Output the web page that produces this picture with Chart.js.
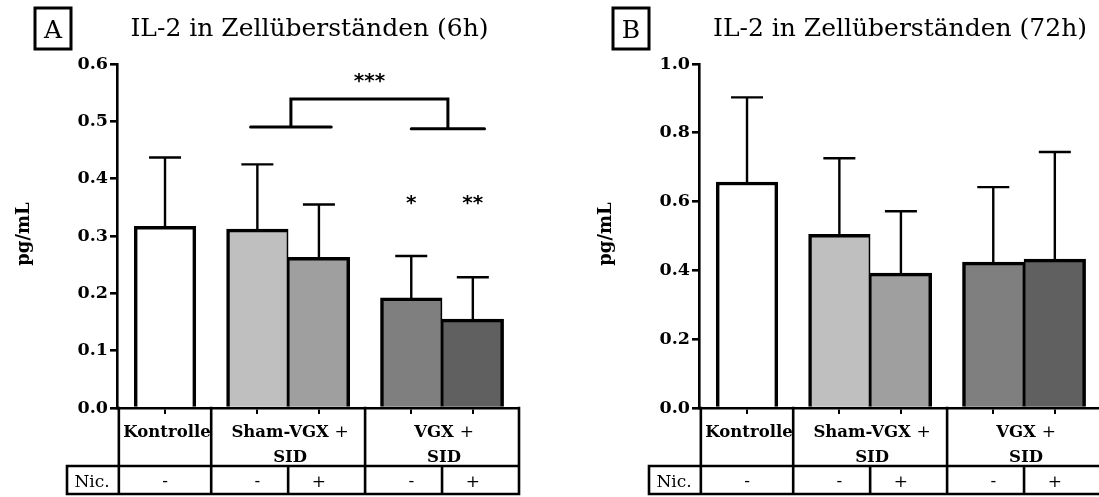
<!DOCTYPE html>
<html>
<head>
<meta charset="utf-8">
<script src="https://cdn.jsdelivr.net/npm/chart.js@4.4.0/dist/chart.umd.min.js"></script>
<style>
  html, body { margin: 0; padding: 0; background: #fff; }
  #wrap { position: relative; width: 1099px; height: 497px; overflow: hidden; }
  #chartA { position: absolute; left: 0; top: 0; }
  #chartB { position: absolute; left: 549px; top: 0; }
</style>
</head>
<body>
<div id="wrap">
  <canvas id="chartA" width="549" height="497"></canvas>
  <canvas id="chartB" width="560" height="497"></canvas>
</div>
<script>
/* ---------- data ---------- */
const groupLabels = [['Kontrolle'], ['Sham-VGX +', 'SID'], ['VGX +', 'SID']];
const barsPerGroup = [1, 2, 2];
const nicotine = ['-', '-', '+', '-', '+'];
const barFill = ['#ffffff', '#bfbfbf', '#9f9f9f', '#7f7f7f', '#606060'];

const mean6h = [0.317, 0.312, 0.263, 0.192, 0.155];
const sem6h = [0.120, 0.113, 0.092, 0.073, 0.073];
const yTicks6h = [0, 0.1, 0.2, 0.3, 0.4, 0.5, 0.6];

const mean72h = [0.657, 0.505, 0.392, 0.424, 0.433];
const sem72h = [0.246, 0.221, 0.180, 0.218, 0.311];
const yTicks72h = [0, 0.2, 0.4, 0.6, 0.8, 1.0];

// significance marks of the 6h panel (axis units)
const sigBracket6h = { top: 0.539, left: [2.14, 3.45, 0.490], right: [4.75, 5.94, 0.487], label: '***', labelY: 0.576 };
const sigStars6h = [{ bar: 3, label: '*', y: 0.363 }, { bar: 4, label: '**', y: 0.363 }];

/* ---------- slot layout from the group sizes ---------- */
const GAP = 0.5;
const barX = [], groupEdges = [0], subEdges = [], firstInGroup = [], lastInGroup = [];
let pos = 0;
barsPerGroup.forEach(n => {
  for (let i = 0; i < n; i++) {
    barX.push(pos + GAP / 2 + 0.5 + i);
    firstInGroup.push(i === 0);
    lastInGroup.push(i === n - 1);
    if (i > 0) subEdges.push(pos + GAP / 2 + i);
  }
  pos += n + GAP;
  groupEdges.push(pos);
});
const groupCenters = groupEdges.slice(0, -1).map((e, i) => (e + groupEdges[i + 1]) / 2);

const SERIF = '"DejaVu Serif", serif';

function textCentered(ctx, str, cx, cy, font) {
  ctx.font = font;
  const m = ctx.measureText(str);
  const base = cy + (m.actualBoundingBoxAscent - m.actualBoundingBoxDescent) / 2;
  ctx.textAlign = 'center';
  ctx.textBaseline = 'alphabetic';
  ctx.fillText(str, cx, base);
}

// bold text with regular "+" signs
function mixedLabel(ctx, str, cx, base) {
  const parts = str.split(/(\+)/).filter(p => p.length);
  const fonts = parts.map(p => p === '+' ? '17px ' + SERIF : 'bold 16.5px ' + SERIF);
  let total = 0;
  const widths = parts.map((p, i) => { ctx.font = fonts[i]; const w = ctx.measureText(p).width; total += w; return w; });
  let x = cx - total / 2;
  ctx.textAlign = 'left';
  ctx.textBaseline = 'alphabetic';
  parts.forEach((p, i) => { ctx.font = fonts[i]; ctx.fillText(p, x, base); x += widths[i]; });
}

function panelPlugin(cfg) {
  return {
    id: 'panel',
    afterDatasetsDraw(chart) {
      const { ctx, scales: { y } } = chart;
      const meta = chart.getDatasetMeta(0);
      ctx.save();
      ctx.strokeStyle = '#000';
      ctx.lineWidth = 2.4;
      meta.data.forEach((bar, i) => {
        const topY = y.getPixelForValue(cfg.mean[i] + cfg.sem[i]);
        const half = bar.width * 0.26;
        ctx.beginPath();
        ctx.moveTo(bar.x, bar.y);
        ctx.lineTo(bar.x, topY);
        ctx.moveTo(bar.x - half, topY);
        ctx.lineTo(bar.x + half, topY);
        ctx.stroke();
      });
      ctx.restore();
    },
    afterDraw(chart) {
      const { ctx, chartArea: a, scales: { x, y } } = chart;
      const px = v => Math.max(a.left, Math.min(a.right, x.getPixelForValue(v)));
      const top = a.bottom, mid = a.bottom + 58, bot = a.bottom + 86;
      const nicLeft = a.left - 50;
      ctx.save();
      ctx.fillStyle = '#000';
      ctx.strokeStyle = '#000';

      // table under the axis
      ctx.lineWidth = 2.6;
      ctx.lineCap = 'square';
      ctx.beginPath();
      ctx.moveTo(nicLeft, mid); ctx.lineTo(a.right, mid);
      ctx.moveTo(nicLeft, bot); ctx.lineTo(a.right, bot);
      ctx.moveTo(nicLeft, mid); ctx.lineTo(nicLeft, bot);
      groupEdges.forEach(e => { const X = px(e); ctx.moveTo(X, top); ctx.lineTo(X, bot); });
      subEdges.forEach(e => { const X = px(e); ctx.moveTo(X, mid); ctx.lineTo(X, bot); });
      ctx.stroke();

      groupLabels.forEach((lines, g) => {
        const cx = x.getPixelForValue(groupCenters[g]) + 2;
        lines.forEach((ln, k) => mixedLabel(ctx, ln, cx, top + 29 + k * 25));
      });
      textCentered(ctx, 'Nic.', (nicLeft + a.left) / 2, mid + 15, '17px ' + SERIF);
      nicotine.forEach((s, i) => textCentered(ctx, s, x.getPixelForValue(barX[i]), mid + 15.5, '17px ' + SERIF));

      // panel letter box and title
      ctx.lineWidth = 3;
      ctx.lineCap = 'butt';
      ctx.strokeRect(cfg.boxX, 8, 36, 41);
      textCentered(ctx, cfg.letter, cfg.boxX + 18, 28.5, '25px ' + SERIF);
      ctx.font = '25px ' + SERIF;
      ctx.textAlign = 'center';
      ctx.textBaseline = 'alphabetic';
      ctx.fillText(cfg.title, cfg.titleX, 36);

      // y axis title
      ctx.save();
      ctx.translate(a.left - 88, 234);
      ctx.rotate(-Math.PI / 2);
      ctx.font = 'bold 18px ' + SERIF;
      ctx.textAlign = 'center';
      ctx.fillText('pg/mL', 0, 0);
      ctx.restore();

      // significance
      if (cfg.bracket) {
        const b = cfg.bracket;
        const yT = y.getPixelForValue(b.top);
        const lx = x.getPixelForValue((b.left[0] + b.left[1]) / 2);
        const rx = x.getPixelForValue((b.right[0] + b.right[1]) / 2);
        const ly = y.getPixelForValue(b.left[2]);
        const ry = y.getPixelForValue(b.right[2]);
        ctx.lineWidth = 3;
        ctx.lineJoin = 'miter';
        ctx.beginPath();
        ctx.moveTo(lx, ly); ctx.lineTo(lx, yT); ctx.lineTo(rx, yT); ctx.lineTo(rx, ry);
        ctx.stroke();
        ctx.lineCap = 'round';
        ctx.beginPath();
        ctx.moveTo(x.getPixelForValue(b.left[0]), ly); ctx.lineTo(x.getPixelForValue(b.left[1]), ly);
        ctx.moveTo(x.getPixelForValue(b.right[0]), ry); ctx.lineTo(x.getPixelForValue(b.right[1]), ry);
        ctx.stroke();
        const starFont = 'bold 20px "DejaVu Sans", sans-serif';
        textCentered(ctx, b.label, (lx + rx) / 2, y.getPixelForValue(b.labelY), starFont);
        cfg.stars.forEach(s => textCentered(ctx, s.label, x.getPixelForValue(barX[s.bar]), y.getPixelForValue(s.y), starFont));
      }
      ctx.restore();
    }
  };
}

function makeChart(id, mean, sem, yTicks, padLeft, padRight, cfg) {
  return new Chart(document.getElementById(id), {
    type: 'bar',
    data: {
      datasets: [{
        data: barX.map((v, i) => ({ x: v, y: mean[i] })),
        backgroundColor: barFill,
        borderColor: '#000',
        borderWidth: barX.map((v, i) => ({
          top: 3.5, bottom: 0,
          left: firstInGroup[i] ? 3.5 : 1.75,
          right: lastInGroup[i] ? 3.5 : 1.75
        })),
        borderSkipped: 'start',
        barPercentage: 1,
        categoryPercentage: 1
      }]
    },
    options: {
      responsive: false,
      animation: false,
      events: [],
      layout: { padding: { left: padLeft, right: padRight, top: 64, bottom: 0 } },
      plugins: { legend: { display: false }, tooltip: { enabled: false } },
      scales: {
        x: {
          type: 'linear',
          min: -0.03,
          max: pos,
          offset: false,
          ticks: { display: false },
          grid: { drawOnChartArea: false, drawTicks: true, tickLength: 6, color: '#000', lineWidth: 2, offset: false },
          border: { color: '#000', width: 2.6 },
          afterBuildTicks: s => { s.ticks = barX.map(v => ({ value: v })); },
          afterFit: s => { s.height = 89; }
        },
        y: {
          min: 0,
          max: yTicks[yTicks.length - 1],
          ticks: {
            color: '#000',
            padding: 2,
            font: { family: 'DejaVu Serif', weight: 'bold', size: 17.5 },
            callback: v => Number(v).toFixed(1)
          },
          grid: { drawOnChartArea: false, drawTicks: true, tickLength: 7, color: '#000', lineWidth: 2.6 },
          border: { color: '#000', width: 2.6 },
          afterBuildTicks: s => { s.ticks = yTicks.map(v => ({ value: v })); },
          afterFit: s => { s.width = 60; }
        }
      }
    },
    plugins: [panelPlugin(Object.assign({ mean, sem }, cfg))]
  });
}

makeChart('chartA', mean6h, sem6h, yTicks6h, 57, 30, {
  letter: 'A', title: 'IL-2 in Zellüberständen (6h)', titleX: 309.5, boxX: 35,
  bracket: sigBracket6h, stars: sigStars6h
});
makeChart('chartB', mean72h, sem72h, yTicks72h, 90, 8, {
  letter: 'B', title: 'IL-2 in Zellüberständen (72h)', titleX: 351, boxX: 64
});
</script>
</body>
</html>
